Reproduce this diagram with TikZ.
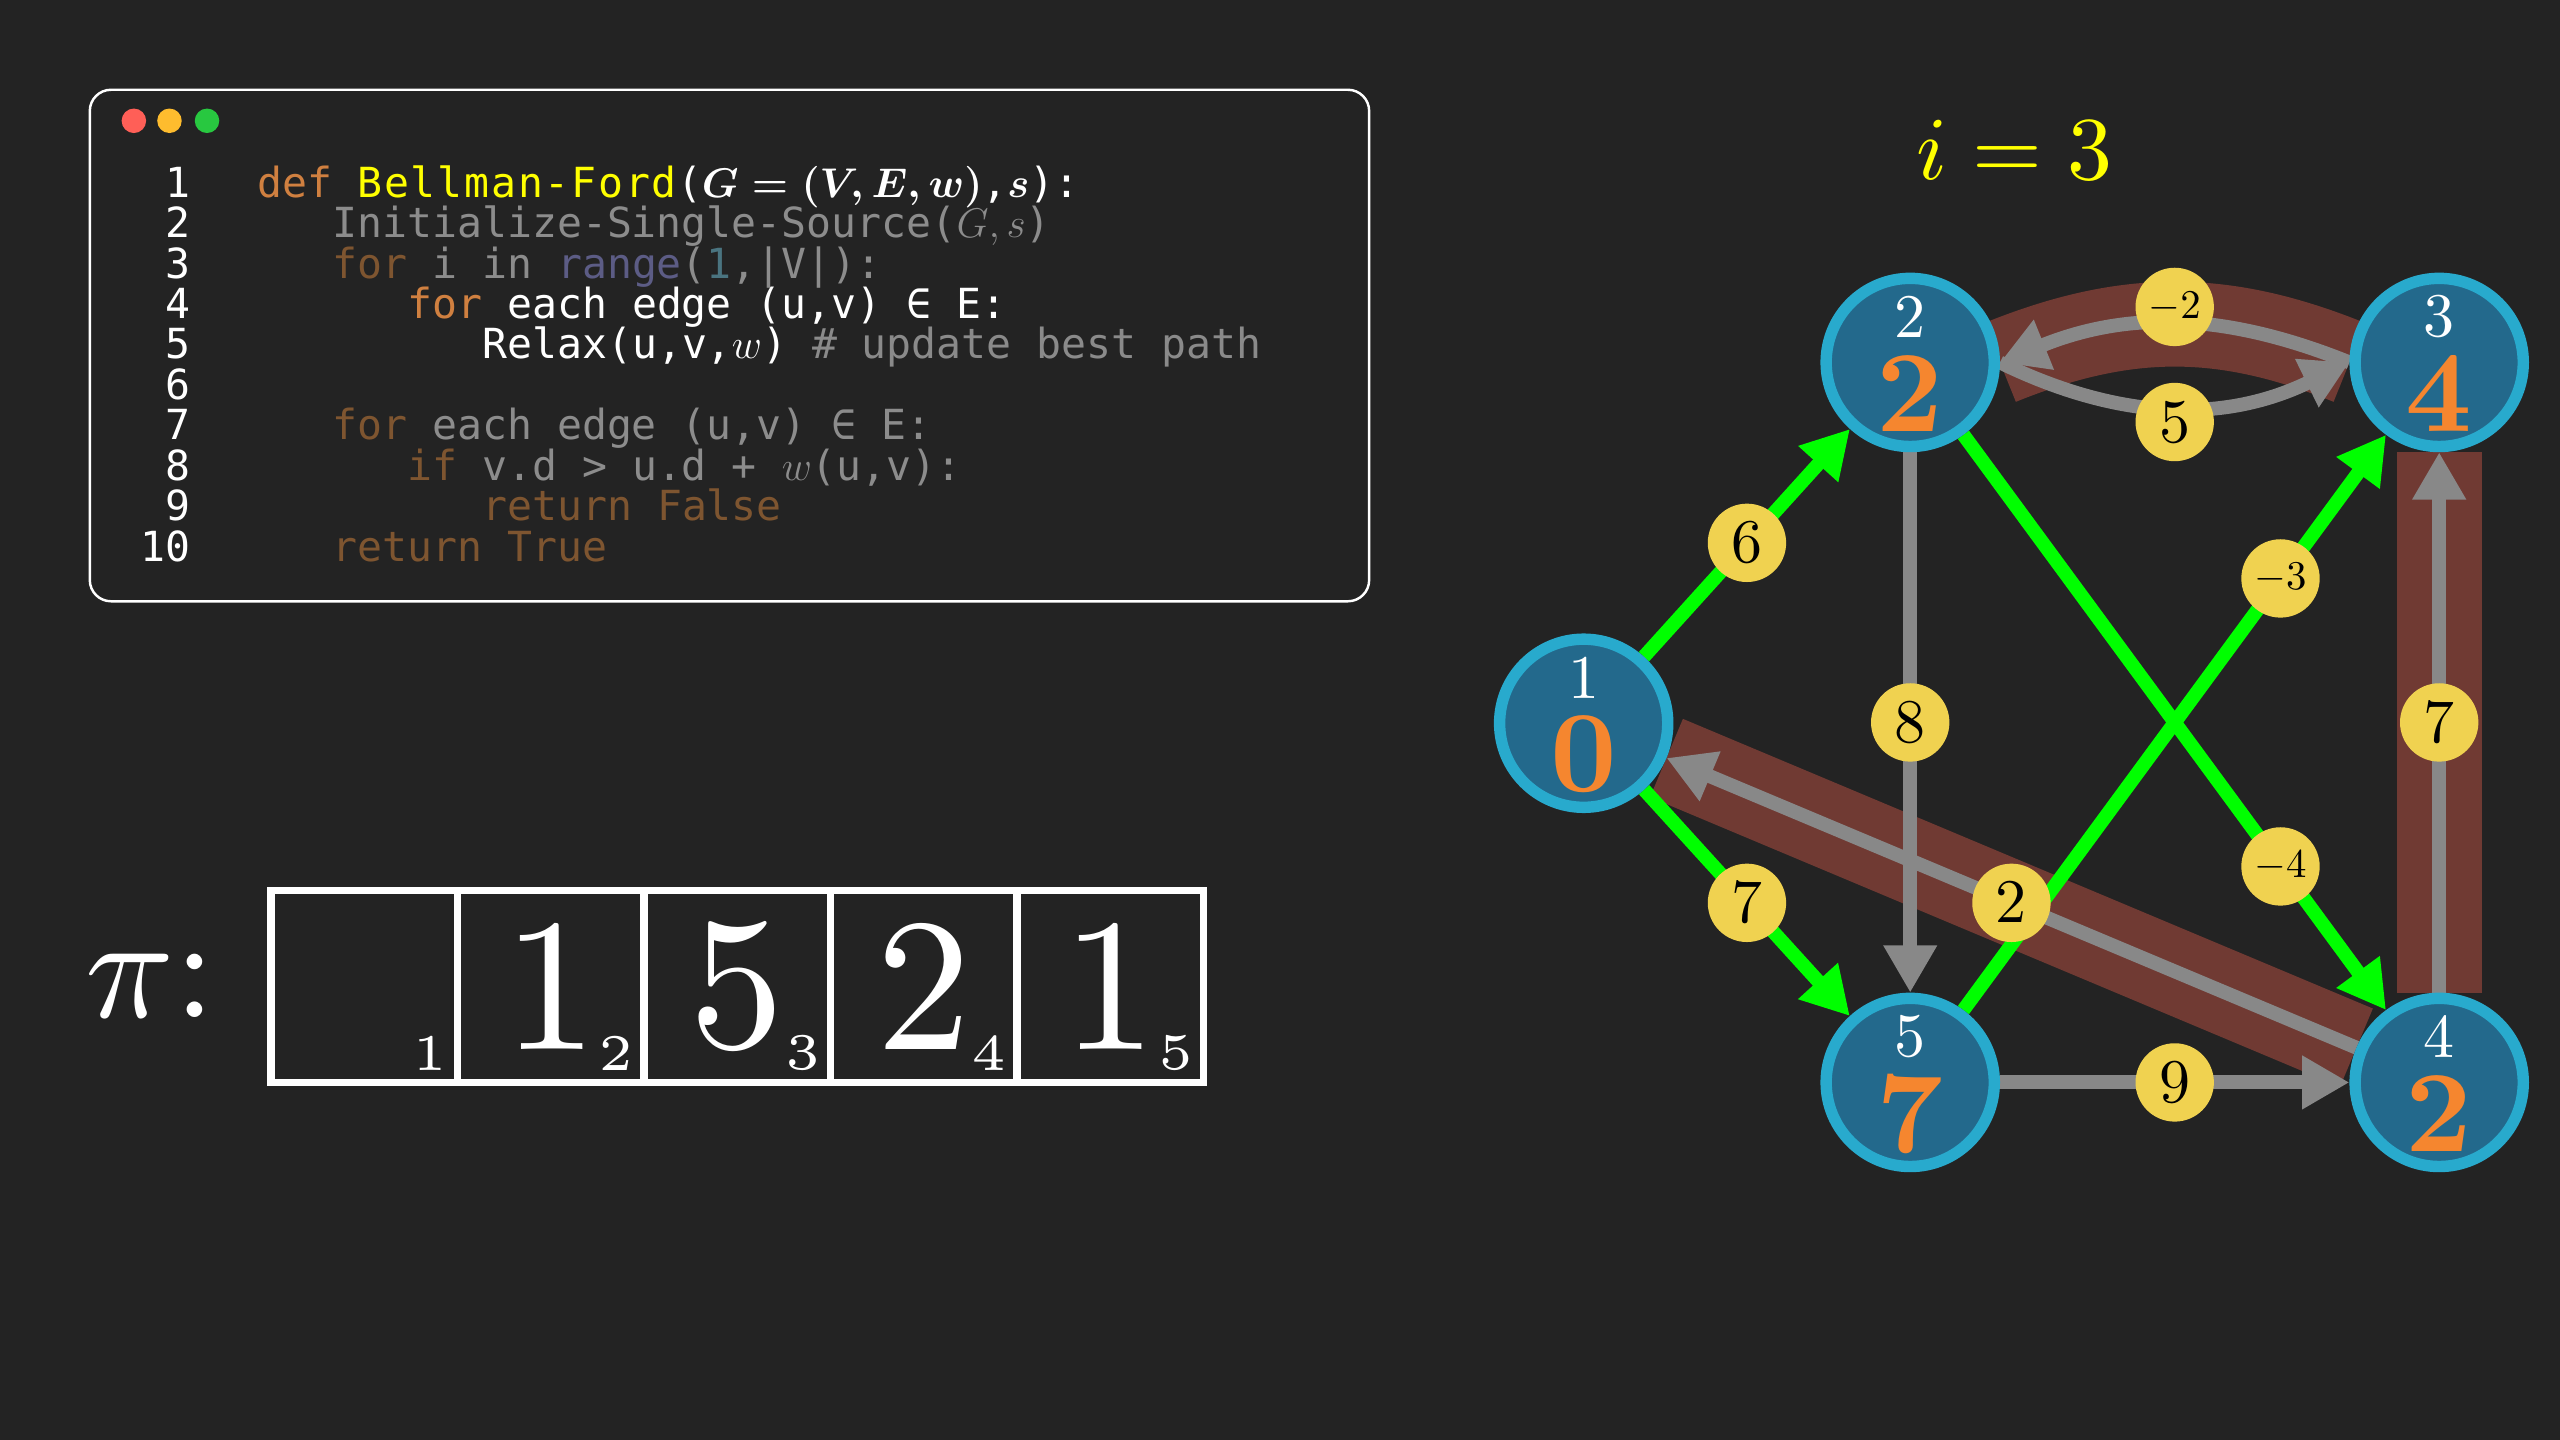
\RequirePackage{fix-cm}
\documentclass[tikz,border=0pt]{standalone}
\usepackage{graphicx}
\usepackage{fontspec}
\setmonofont{DejaVu Sans Mono}
\newfontfamily\wideMono{DejaVu Sans Mono}[LetterSpace=4.4]
\usetikzlibrary{arrows.meta,calc}
\pgfdeclarelayer{back}
\pgfdeclarelayer{edges}
\pgfsetlayers{back,edges,main}
\newcommand\fsz[1]{\fontsize{#1}{#1}\selectfont}
\newcommand\scl[2]{\scalebox{#1}{\fontsize{10}{12}\selectfont #2}}
\newcommand\sclv[2]{\scalebox{#1}{\fontsize{5}{6}\selectfont #2}}
\definecolor{bgc}{HTML}{232323}
\definecolor{kw}{HTML}{D08040}
\definecolor{kwdim}{HTML}{7E5530}
\definecolor{fn}{HTML}{FFFF00}
\definecolor{dimtxt}{HTML}{8C8C8C}
\definecolor{rng}{HTML}{5C5C85}
\definecolor{numc}{HTML}{4A7480}
\definecolor{cmt}{HTML}{8A8A8A}
\definecolor{nodefill}{HTML}{23698C}
\definecolor{nodeedge}{HTML}{28AACD}
\definecolor{valc}{HTML}{F5862F}
\definecolor{lblc}{HTML}{F0D250}
\definecolor{grayedge}{HTML}{888888}
\definecolor{hl}{HTML}{703A33}
\definecolor{grn}{HTML}{00FF00}
\tikzset{
  code/.style={anchor=base west, inner sep=0, text=white, font=\fsz{25.4}\ttfamily},
  lnum/.style={anchor=base east, inner sep=0, text=white, font=\fsz{25.4}\ttfamily},
  vtx/.style={circle, fill=nodefill, draw=nodeedge, line width=7pt, minimum size=103pt, inner sep=0},
  vid/.style={inner sep=0, text=white},
  vval/.style={inner sep=0, text=valc},
  elbl/.style={circle, fill=lblc, minimum size=48pt, inner sep=0, text=black},
  hlband/.style={draw=hl, line width=52pt, line cap=butt},
  gedge/.style={draw=grayedge, line width=8.5pt, -{Triangle[length=29pt,width=31pt]}},
  gnedge/.style={draw=grn, line width=8.5pt, -{Triangle[length=29pt,width=31pt]}},
  cell/.style={draw=white, line width=4.5pt, minimum width=114.2pt, minimum height=117.5pt, inner sep=0, outer sep=0},
  bigd/.style={inner sep=0, text=white},
  subd/.style={inner sep=0, text=white, anchor=south east},
  dot/.style={circle, inner sep=0, minimum size=15pt}
}
\begin{document}
\begin{tikzpicture}[x=1pt,y=1pt]
\begin{pgfonlayer}{back}
\fill[bgc] (0,0) rectangle (1568,882);
\end{pgfonlayer}
\useasboundingbox (0,0) rectangle (1568,882);

% code window
\draw[white, line width=1.5pt, rounded corners=13pt] (55,827) rectangle (838.6,513.7);
\node[dot, fill={rgb,255:red,255;green,95;blue,87}] (dr) at (82,808) {};
\node[dot, fill={rgb,255:red,254;green,188;blue,46}] (dy) at (103.8,808) {};
\node[dot, fill={rgb,255:red,40;green,200;blue,64}] (dg) at (126.8,808) {};

\foreach \k [evaluate=\k as \yy using 761.2-(\k-1)*24.76] in {1,...,10}
  \node[lnum] (ln\k) at (117,\yy) {\k};

\node[code] (l1) at (157.5,761.2) {\color{kw}def {\color{fn}\wideMono Bellman-Ford}\color{white}({\boldmath$G = (V, E, w)$},{\boldmath$s$}):};
\node[code] (l2) at (203.4,736.44) {\color{dimtxt}Initialize-Single-Source($G,s$)};
\node[code] (l3) at (203.4,711.68) {\color{kwdim}for \color{dimtxt}i in \color{rng}range\color{dimtxt}(\color{numc}1\color{dimtxt},|V|):};
\node[code] (l4) at (249.3,686.92) {\color{kw}for \color{white}each edge (u,v) ∈ E:};
\node[code] (l5) at (295.2,662.16) {\color{white}Relax(u,v,$w$) \color{cmt}\# update best path};
\node[code] (l7) at (203.4,612.64) {\color{kwdim}for \color{dimtxt}each edge (u,v) ∈ E:};
\node[code] (l8) at (249.3,587.88) {\color{kwdim}if \color{dimtxt}v.d > u.d + $w$(u,v):};
\node[code] (l9) at (295.2,563.12) {\color{kwdim}return False};
\node[code] (l10) at (203.4,538.36) {\color{kwdim}return True};

% pi array
\node[anchor=west, inner sep=0, text=white] (pi) at (52,278) {\scl{9}{$\pi$:}};
\foreach \k/\v in {1/{},2/1,3/5,4/2,5/1}{
  \node[cell] (c\k) at ({223.1+(\k-1)*114.2},277.75) {};
  \node[bigd] (d\k) at (c\k) {\scl{11.6}{\v}};
  \node[subd] (s\k) at ($(c\k.south east)+(-6,7)$) {\sclv{6.3}{\k}};
}

% title
\node[anchor=base, inner sep=0, text=fn] (title) at (1234,772) {\scl{5.5}{$i = 3$}};

% graph nodes
\node[vtx] (n1) at (970,439) {};
\node[vtx] (n2) at (1170,660) {};
\node[vtx] (n3) at (1494,660) {};
\node[vtx] (n4) at (1494,219) {};
\node[vtx] (n5) at (1170,219) {};
\foreach \n/\v in {1/0,2/2,3/4,4/2,5/7}{
  \node[vid] (n\n i) at ($(n\n)+(0,28)$) {\scl{3.8}{\n}};
  \node[vval] (n\n v) at ($(n\n)+(0,-19)$) {\scl{7.1}{\bfseries\v}};
}

\begin{pgfonlayer}{edges}
\draw[hlband] (n4) -- (n1);
\draw[hlband] (n4) -- (n3);
\draw[hlband] (n3.west) to[out=158,in=22] (n2.east);
\draw[gedge] (n4) -- (n1);
\draw[gedge] (n2) -- (n5);
\draw[gedge] (n5) -- (n4);
\draw[gedge] (n4) -- (n3);
\draw[gedge] (n3.west) to[out=158,in=22] (n2.east);
\draw[gedge] (n2.east) to[out=-26,in=-154] (n3.west);
\draw[gnedge] (n1) -- (n2);
\draw[gnedge] (n1) -- (n5);
\draw[gnedge] (n2) -- (n4);
\draw[gnedge] (n5) -- (n3);
\end{pgfonlayer}

% edge labels
\node[elbl] (w12) at ($(n1)!0.5!(n2)$) {\scl{3.8}{$6$}};
\node[elbl] (w15) at ($(n1)!0.5!(n5)$) {\scl{3.8}{$7$}};
\node[elbl] (w24) at ($(n2)!0.7!(n4)$) {\scl{2.5}{$-4$}};
\node[elbl] (w53) at ($(n5)!0.7!(n3)$) {\scl{2.5}{$-3$}};
\node[elbl] (w41) at ($(n4)!0.5!(n1)$) {\scl{3.8}{$2$}};
\node[elbl] (w25) at ($(n2)!0.5!(n5)$) {\scl{3.8}{$8$}};
\node[elbl] (w54) at ($(n5)!0.5!(n4)$) {\scl{3.8}{$9$}};
\node[elbl] (w43) at ($(n4)!0.5!(n3)$) {\scl{3.8}{$7$}};
\node[elbl] (w32) at (1332,694) {\scl{2.5}{$-2$}};
\node[elbl] (w23) at (1332,623.5) {\scl{3.8}{$5$}};
\end{tikzpicture}
\end{document}
